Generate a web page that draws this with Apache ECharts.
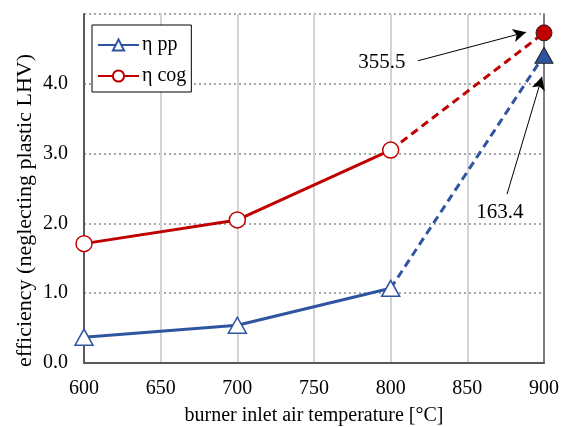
<!DOCTYPE html>
<html>
<head>
<meta charset="utf-8">
<script src="https://cdn.jsdelivr.net/npm/echarts@6/dist/echarts.min.js"></script>
<style>
  html, body { margin: 0; padding: 0; background: #fff; }
  #chart { width: 562px; height: 427px; }
</style>
</head>
<body>
<div id="chart"></div>
<script>
// Burner inlet air temperature [°C]
const temps = [600, 700, 800, 900];
// Efficiency values (neglecting plastic LHV)
const etaPP = [0.37, 0.54, 1.07, 4.41];
const etaCOG = [1.71, 2.05, 3.05, 4.73];
// Ratio labels shown at 900 °C
const noteCOG = '355.5';
const notePP = '163.4';
const yTicks = [0, 1, 2, 3, 4, 5];

const BLUE = '#2F55A0';
const RED = '#C00000';
const FONT = '"Liberation Serif", "Times New Roman", serif';

function solidPart(vals) {
  return temps.slice(0, 3).map((t, i) => [t, vals[i]]);
}
function dashedPart(vals, color) {
  return [
    { value: [temps[2], vals[2]], symbol: 'none' },
    { value: [temps[3], vals[3]], itemStyle: { color: color, borderColor: '#222', borderWidth: 1 } }
  ];
}
function arrow(from, to) {
  return {
    silent: true,
    symbol: ['none', 'arrow'],
    symbolSize: [10, 13],
    itemStyle: { color: '#000' },
    lineStyle: { color: '#000', width: 1, type: 'solid' },
    label: { show: false },
    emphasis: { disabled: true },
    data: [[{ coord: from }, { coord: to }]]
  };
}
function note(text, at) {
  return {
    symbol: 'circle', symbolSize: 0,
    label: { show: true, position: 'inside', formatter: text, fontFamily: FONT, fontSize: 21, color: '#000' },
    data: [{ coord: at }]
  };
}

const chart = echarts.init(document.getElementById('chart'), null, { renderer: 'canvas' });

const option = {
  animation: false,
  backgroundColor: '#fff',
  grid: { left: 84, right: 18, top: 14, bottom: 64, containLabel: false, outerBoundsMode: 'none' },
  legend: {
    data: ['η pp', 'η cog'],
    orient: 'vertical',
    left: 92, top: 25,
    padding: [10, 5, 6, 5],
    itemGap: 11,
    itemWidth: 41, itemHeight: 14,
    borderColor: '#000', borderWidth: 1,
    backgroundColor: '#fff',
    textStyle: { fontFamily: FONT, fontSize: 20, color: '#000', padding: [0, 0, 0, -2] }
  },
  xAxis: {
    type: 'value', min: 600, max: 900, interval: 50,
    name: 'burner inlet air temperature [°C]',
    nameLocation: 'middle', nameGap: 43,
    nameTextStyle: { fontFamily: FONT, fontSize: 20, color: '#000' },
    axisLine: { show: true, lineStyle: { color: '#595959', width: 2 } },
    axisTick: { show: false },
    axisLabel: { fontFamily: FONT, fontSize: 20, color: '#000', margin: 16 },
    splitLine: { show: true, lineStyle: { color: '#d4d4d4', width: 2, type: 'solid' } }
  },
  yAxis: [{
    type: 'value', min: 0, max: 5, interval: 1,
    name: 'efficiency (neglecting plastic LHV)',
    nameLocation: 'middle', nameGap: 48, nameMoveOverlap: false,
    nameTextStyle: { fontFamily: FONT, fontSize: 22, color: '#000', padding: [0, 44, 0, 0] },
    axisLine: { show: true, lineStyle: { color: '#595959', width: 2 } },
    axisTick: { show: false },
    axisLabel: {
      fontFamily: FONT, fontSize: 20, color: '#000', margin: 16,
      formatter: v => (v === yTicks[yTicks.length - 1] ? '' : v.toFixed(1))
    },
    splitLine: { show: true, lineStyle: { color: '#8c8c8c', width: 1.5, type: [2, 3] } }
  }, {
    type: 'value', min: 0, max: 5, interval: 1, position: 'right',
    axisLine: { show: true, lineStyle: { color: '#7f7f7f', width: 2 } },
    axisTick: { show: false }, axisLabel: { show: false }, splitLine: { show: false }
  }],
  series: [
    {
      name: 'η pp', type: 'line', z: 3,
      data: solidPart(etaPP),
      symbol: 'triangle', symbolSize: [18, 16],
      lineStyle: { color: BLUE, width: 3 },
      itemStyle: { color: '#fff', borderColor: BLUE, borderWidth: 1.5 },
      color: BLUE
    },
    {
      name: 'η cog', type: 'line', z: 3,
      data: solidPart(etaCOG),
      symbol: 'circle', symbolSize: 16,
      lineStyle: { color: RED, width: 3 },
      itemStyle: { color: '#fff', borderColor: RED, borderWidth: 1.5 },
      color: RED
    },
    {
      name: 'pp-ext', type: 'line', z: 2,
      data: dashedPart(etaPP, BLUE),
      symbol: 'triangle', symbolSize: [18, 16],
      lineStyle: { color: BLUE, width: 3, type: [8, 5] },
      markLine: arrow([875.9, 2.42], [898.7, 4.10]),
      markPoint: note(notePP, [871.3, 2.15])
    },
    {
      name: 'cog-ext', type: 'line', z: 2,
      data: dashedPart(etaCOG, RED),
      symbol: 'circle', symbolSize: 16,
      lineStyle: { color: RED, width: 3, type: [8, 5] },
      markLine: arrow([817.8, 4.33], [888.3, 4.74]),
      markPoint: note(noteCOG, [794.3, 4.31])
    }
  ]
};

chart.setOption(option);
</script>
</body>
</html>
